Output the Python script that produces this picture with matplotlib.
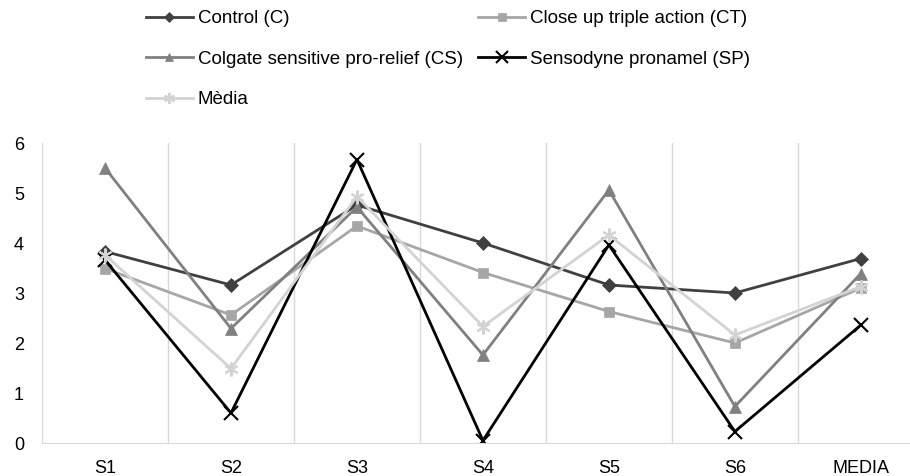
import matplotlib
matplotlib.use("Agg")
import matplotlib.pyplot as plt
import numpy as np

plt.rcParams['font.family'] = ['Liberation Sans', 'DejaVu Sans']

categories = ["S1", "S2", "S3", "S4", "S5", "S6", "MEDIA"]
control = [3.83, 3.16, 4.76, 4.0, 3.16, 3.0, 3.69]
close_up = [3.49, 2.56, 4.34, 3.41, 2.63, 2.0, 3.1]
colgate = [5.5, 2.29, 4.72, 1.76, 5.06, 0.73, 3.39]
sensodyne = [3.66, 0.6, 5.67, 0.05, 3.96, 0.23, 2.36]
media = [3.76, 1.49, 4.93, 2.33, 4.16, 2.16, 3.13]

series = [
    ("Control (C)", control, "#404040", "D", 7),
    ("Close up triple action (CT)", close_up, "#a6a6a6", "s", 7),
    ("Colgate sensitive pro-relief (CS)", colgate, "#808080", "^", 8),
    ("Sensodyne pronamel (SP)", sensodyne, "#000000", "x", 10),
    ("Mèdia", media, "#d3d3d3", (6, 2, 0), 10),
]

fig = plt.figure(figsize=(9.1, 4.76), dpi=100)
ax = fig.add_axes([42 / 910, 1 - 443 / 476, 1 - 42 / 910, 300 / 476])

x = np.arange(len(categories))
handles = {}
for name, vals, col, mk, ms in series:
    thin = mk == "x" or isinstance(mk, tuple)
    ln, = ax.plot(x, vals, color=col, lw=2, marker=mk, markersize=ms,
                  markeredgewidth=1.5 if thin else 0.5, markeredgecolor=col,
                  label=name)
    handles[name] = ln

ax.set_xlim(-0.5, 6.39)
ax.set_ylim(0, 6)
ax.set_xticks(x)
ax.set_xticklabels(categories, fontsize=13)
ax.set_yticks(range(7))
ax.tick_params(axis='y', labelsize=13, length=0, pad=13)
ax.tick_params(axis='x', length=0, pad=12)
for xv in np.arange(-0.5, 6.0, 1.0):
    ax.axvline(xv, color="#d9d9d9", lw=1, zorder=0)
for s in ["top", "right", "left"]:
    ax.spines[s].set_visible(False)
ax.spines["bottom"].set_color("#d9d9d9")

# legend: 2 columns, filled column-wise
order = ["Control (C)", "Colgate sensitive pro-relief (CS)", "Mèdia",
         "Close up triple action (CT)", "Sensodyne pronamel (SP)"]
fig.legend([handles[n] for n in order], order, ncol=2, frameon=False,
           loc="upper left", bbox_to_anchor=(146 / 910, 1 - 10 / 476),
           fontsize=13.5, borderpad=0, borderaxespad=0,
           handlelength=2.5, handletextpad=0.27, columnspacing=0.8,
           labelspacing=1.25, markerscale=0.8)

fig.savefig("out.png", dpi=100)
